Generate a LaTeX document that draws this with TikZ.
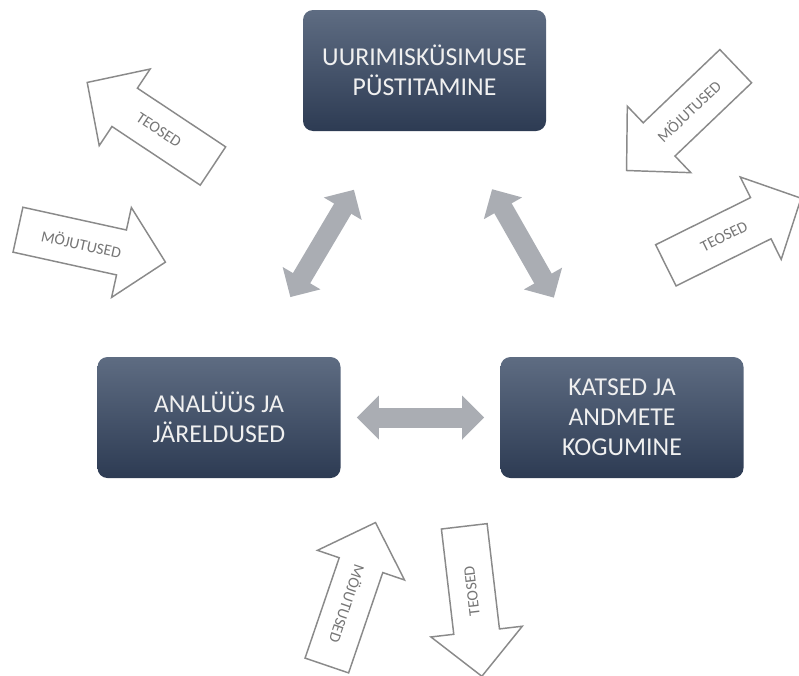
\documentclass[tikz,border=0pt]{standalone}
\usepackage{fontspec}
\setmainfont{Carlito}
\usepackage{tikz}
\usetikzlibrary{arrows.meta}

\definecolor{kastyla}{RGB}{94,108,130}
\definecolor{kastalla}{RGB}{45,59,83}
\definecolor{hallnool}{RGB}{170,173,179}
\definecolor{kontuur}{RGB}{138,138,138}
\definecolor{kirihall}{RGB}{118,118,118}

\begin{document}
\begin{tikzpicture}[x=0.75pt,y=-0.75pt,
	etapp/.style={rectangle,rounded corners=7.5pt,minimum width=182.25pt,minimum height=90.75pt,
		top color=kastyla,bottom color=kastalla,text=white!94!black,align=center,
		font=\fontsize{19.3}{22.5}\selectfont},
	vahenool/.style={draw=hallnool,line width=15pt,
		{Triangle[length=16.5pt,width=32pt]}-{Triangle[length=16.5pt,width=32pt]}},
	plokknool/.style={draw=kontuur,fill=white,line width=1.1pt},
	noolekiri/.style={text=kirihall,font=\fontsize{11.8}{14}\selectfont}]
\useasboundingbox (0,0) rectangle (799,675);

% etapid
\node [etapp] (kusimus) at (424.5,70.5) {UURIMISKÜSIMUSE\\PÜSTITAMINE};
\node [etapp] (analyys) at (219,417.5) {ANALÜÜS JA\\JÄRELDUSED};
\node [etapp] (katsed) at (622,417.5) {KATSED JA\\ANDMETE\\KOGUMINE};

% seosed etappide vahel
\draw [vahenool,shorten <=52pt,shorten >=51pt] (analyys) -- (kusimus);
\draw [vahenool,shorten <=50pt,shorten >=51pt] (kusimus) -- (katsed);
\draw [vahenool,shorten <=12pt,shorten >=12pt] (analyys) -- (katsed);

% mõjutused ja teosed
\foreach \kx/\ky/\nurk/\kirinurk/\kiri [count=\i] in {
	150.5/124.5/146.4/-33.6/TEOSED,
	91.2/245.8/-12.4/-12.4/MÖJUTUSED,
	681.5/118/-136.3/43.7/MÖJUTUSED,
	733/232/26.4/26.4/TEOSED,
	351/594.5/71.2/-108.8/MÖJUTUSED,
	473/600.8/-83.3/96.7/TEOSED}
{
	\begin{scope}[shift={(\kx,\ky)},rotate=\nurk]
	\draw [plokknool] (-75,-23) -- (31,-23) -- (31,-46) -- (76,0) -- (31,46) -- (31,23) -- (-75,23) -- cycle;
	\node [noolekiri,rotate=\kirinurk] (kiri\i) at (-10,0) {\kiri};
	\end{scope}
}
\end{tikzpicture}
\end{document}
